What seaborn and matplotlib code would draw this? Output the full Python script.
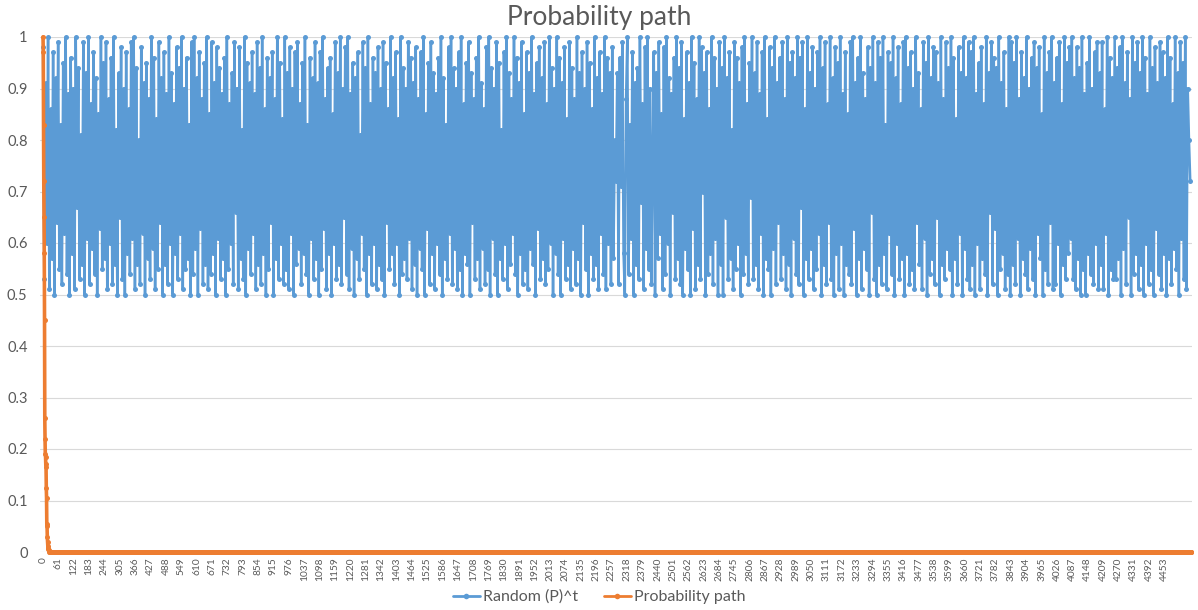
"""Probability path: random draws in [0.5, 1] and their running product."""
import matplotlib
matplotlib.use("Agg")
import matplotlib.pyplot as plt
from matplotlib.lines import Line2D
import numpy as np
import pandas as pd
import seaborn as sns

TITLE = "Probability path"
SERIES_NAMES = ["Random (P)^t", "Probability path"]
N_POINTS = 4560
BLUE_STEP = 5  # one read-off value per 5 steps of t

# Random (P)^t in percent (local highs and lows)
blue_pct = [
    98, 53, 91, 60, 100, 51, 86, 57, 97, 50, 92, 64,
    99, 55, 83, 52, 95, 62, 100, 54, 89, 50, 96, 58,
    90, 51, 100, 67, 94, 53, 81, 56, 99, 50, 93, 61,
    100, 52, 87, 59, 97, 54, 92, 50, 85, 63, 100, 55,
    95, 57, 99, 51, 88, 60, 96, 52, 100, 56, 82, 50,
    93, 65, 98, 53, 90, 50, 97, 58, 86, 54, 99, 61,
    100, 51, 94, 56, 80, 52, 98, 62, 91, 50, 95, 57,
    88, 53, 100, 59, 96, 51, 84, 55, 99, 64, 92, 50,
    97, 56, 89, 52, 100, 60, 93, 50, 87, 58, 98, 53,
    94, 62, 100, 51, 90, 55, 96, 57, 83, 50, 99, 54,
    100, 59, 92, 50, 97, 63, 88, 52, 95, 56, 100, 51,
    85, 54, 99, 58, 91, 50, 98, 61, 94, 53, 89, 57,
    96, 50, 100, 55, 87, 60, 93, 52, 99, 66, 90, 51,
    98, 57, 82, 53, 100, 50, 95, 59, 91, 54, 97, 62,
    89, 51, 99, 56, 94, 52, 100, 58, 86, 50, 96, 55,
    92, 64, 97, 50, 88, 57, 100, 53, 95, 60, 84, 52,
    100, 55, 93, 51, 98, 62, 90, 50, 97, 56, 99, 59,
    87, 52, 95, 58, 100, 54, 83, 50, 96, 61, 92, 53,
    99, 57, 91, 50, 97, 55, 100, 63, 88, 51, 94, 58,
    96, 50, 85, 60, 99, 53, 93, 56, 100, 52, 90, 65,
    98, 54, 100, 51, 89, 59, 95, 50, 92, 57, 97, 53,
    81, 62, 99, 55, 94, 50, 100, 58, 87, 52, 96, 60,
    93, 51, 98, 56, 90, 53, 99, 50, 95, 64, 86, 55,
    100, 58, 92, 52, 97, 60, 84, 50, 100, 54, 94, 57,
    90, 53, 99, 61, 96, 51, 91, 56, 98, 50, 88, 59,
    97, 55, 100, 50, 85, 63, 95, 52, 99, 58, 93, 51,
    89, 60, 96, 54, 100, 50, 92, 57, 83, 53, 98, 62,
    100, 52, 94, 59, 90, 51, 97, 55, 100, 50, 87, 58,
    95, 56, 99, 50, 93, 64, 88, 53, 96, 57, 100, 51,
    91, 59, 86, 52, 98, 55, 100, 50, 94, 61, 90, 54,
    99, 50, 95, 57, 82, 53, 97, 60, 100, 51, 93, 56,
    88, 62, 100, 54, 96, 50, 91, 58, 99, 52, 85, 55,
    97, 51, 93, 59, 100, 56, 89, 50, 95, 63, 98, 53,
    92, 57, 99, 52, 87, 55, 100, 60, 94, 50, 90, 58,
    100, 54, 96, 50, 91, 61, 98, 53, 84, 56, 99, 51,
    94, 59, 88, 52, 100, 57, 93, 50, 97, 64, 90, 55,
    99, 50, 95, 58, 86, 53, 100, 56, 92, 51, 97, 62,
    89, 54, 100, 51, 96, 60, 93, 52, 98, 57, 80, 72,
    93, 52, 96, 71, 99, 58, 50, 88, 100, 54, 83, 61,
    97, 50, 91, 56, 94, 53, 100, 68, 87, 51, 98, 59,
    100, 55, 90, 52, 76, 97, 50, 93, 57, 99, 62, 85,
    51, 98, 54, 100, 60, 92, 50, 89, 66, 96, 53, 100,
    57, 94, 52, 99, 50, 84, 59, 97, 55, 91, 50, 100,
    63, 95, 51, 88, 56, 100, 53, 98, 70, 93, 50, 97,
    54, 86, 58, 100, 52, 96, 61, 90, 50, 99, 56, 94,
    50, 100, 65, 92, 53, 97, 57, 82, 51, 99, 55, 96,
    60, 91, 50, 98, 54, 100, 58, 87, 52, 95, 69, 100,
    53, 93, 56, 99, 51, 89, 62, 97, 50, 100, 57, 84,
    55, 98, 50, 94, 59, 100, 52, 91, 64, 96, 53, 99,
    58, 88, 51, 100, 56, 95, 50, 97, 61, 92, 54, 100,
    52, 96, 67, 99, 50, 86, 57, 100, 53, 93, 59, 98,
    51, 90, 55, 97, 62, 100, 50, 94, 56, 99, 52, 87,
    64, 100, 53, 92, 50, 98, 58, 95, 51, 100, 60, 89,
    50, 97, 56, 85, 54, 99, 52, 100, 63, 91, 50, 96,
    57, 100, 51, 93, 59, 88, 55, 98, 50, 94, 66, 100,
    53, 91, 50, 99, 56, 96, 52, 100, 58, 83, 51, 97,
    62, 95, 54, 100, 50, 92, 60, 98, 53, 87, 57, 99,
    50, 100, 58, 94, 52, 97, 55, 90, 51, 100, 64, 93,
    56, 86, 51, 99, 61, 95, 50, 100, 54, 92, 57, 98,
    52, 97, 65, 91, 50, 100, 56, 88, 53, 99, 59, 94,
    55, 100, 50, 96, 57, 84, 52, 98, 62, 93, 50, 100,
    59, 92, 53, 99, 51, 97, 56, 100, 50, 89, 60, 95,
    51, 98, 57, 87, 54, 100, 50, 93, 66, 99, 52, 96,
    63, 94, 50, 100, 55, 91, 58, 97, 51, 86, 54, 100,
    50, 99, 56, 95, 52, 100, 61, 88, 50, 97, 57, 92,
    54, 100, 51, 90, 59, 96, 53, 99, 50, 94, 62, 98,
    57, 85, 50, 100, 55, 93, 52, 97, 64, 100, 51, 91,
    52, 96, 60, 99, 50, 87, 56, 100, 53, 95, 58, 98,
    61, 100, 53, 92, 51, 98, 57, 94, 50, 100, 55, 89,
    50, 95, 58, 100, 54, 90, 52, 97, 60, 99, 51, 93,
    56, 99, 51, 86, 62, 100, 50, 96, 55, 92, 53, 100,
    53, 94, 57, 98, 50, 100, 59, 91, 52, 97, 65, 88,
    50, 100, 54, 95, 58, 99, 51, 93, 56, 100, 50, 96,
    60, 89, 52, 100, 55, 94, 50, 98, 63, 91, 54, 99,
    51, 97, 58, 92, 50, 100, 57, 96, 52, 87, 59, 100,
    55, 93, 50, 99, 61, 95, 53, 100, 51, 90, 80, 72,
]

# Probability path: the first steps, zero afterwards
orange_head = [
    1.00, 0.97, 0.83, 0.72, 0.65, 0.58, 0.45, 0.26, 0.22, 0.19, 0.185, 0.17,
    0.165, 0.125, 0.105, 0.055, 0.05, 0.03, 0.02, 0.012, 0.008, 0.005, 0.003,
    0.002, 0.001,
]
orange_tail_value = 0.0

X_TICK_STEP = 61
Y_TICKS = [0, 0.1, 0.2, 0.3, 0.4, 0.5, 0.6, 0.7, 0.8, 0.9, 1]
Y_TICK_LABELS = ["0", "0.1", "0.2", "0.3", "0.4", "0.5", "0.6", "0.7", "0.8", "0.9", "1"]

BLUE = "#5B9BD5"
ORANGE = "#ED7D31"
TEXT = "#595959"
GRID = "#D9D9D9"


def main() -> None:
    blue = pd.DataFrame({"t": np.arange(len(blue_pct)) * BLUE_STEP,
                         "p": np.array(blue_pct) / 100})
    orange_values = orange_head + [orange_tail_value] * (N_POINTS - len(orange_head))
    orange = pd.DataFrame({"t": np.arange(N_POINTS), "p": orange_values})

    sns.set_theme(style="white")
    plt.rcParams["font.family"] = ["Lato", "DejaVu Sans"]
    plt.rcParams["path.simplify"] = False

    fig = plt.figure(figsize=(11.98, 6.10), dpi=100)
    ax = fig.add_axes([40 / 1198, 58 / 610, 1152 / 1198, 515 / 610])

    sns.lineplot(data=blue, x="t", y="p", ax=ax, color=BLUE, linewidth=1.8,
                 marker="o", markersize=3.6, markeredgewidth=0, estimator=None,
                 sort=False, clip_on=False, zorder=3)
    sns.lineplot(data=orange, x="t", y="p", ax=ax, color=ORANGE, linewidth=2.6,
                 marker="o", markersize=3.6, markeredgewidth=0, estimator=None,
                 sort=False, clip_on=False, zorder=4)

    ax.set_xlim(-12, N_POINTS + 2)
    ax.set_ylim(0, 1)
    ax.set_yticks(Y_TICKS)
    ax.set_yticklabels(Y_TICK_LABELS)
    xt = list(range(0, N_POINTS - 100, X_TICK_STEP))
    ax.set_xticks(xt)
    ax.set_xticklabels([str(v) for v in xt], rotation=90)
    ax.tick_params(axis="y", length=0, pad=9, labelsize=10.5, labelcolor=TEXT)
    ax.tick_params(axis="x", length=0, pad=4, labelsize=7.3, labelcolor=TEXT)
    ax.grid(axis="y", color=GRID, linewidth=0.8)
    ax.grid(axis="x", visible=False)
    for spine in ax.spines.values():
        spine.set_visible(False)
    ax.set_xlabel("")
    ax.set_ylabel("")

    fig.text(0.5, 1 - 17 / 610, TITLE, ha="center", va="center", fontsize=19, color=TEXT)

    handles = [
        Line2D([], [], color=BLUE, linewidth=2, marker="o", markersize=4, markeredgewidth=0),
        Line2D([], [], color=ORANGE, linewidth=2, marker="o", markersize=4, markeredgewidth=0),
    ]
    fig.legend(handles, SERIES_NAMES, loc="center", bbox_to_anchor=(0.5, 13 / 610), ncol=2,
               frameon=False, fontsize=11.5, labelcolor=TEXT, handlelength=1.7,
               handletextpad=0.2, columnspacing=1.6)

    fig.savefig("out.png", dpi=100, facecolor="white")
    plt.close(fig)


if __name__ == "__main__":
    main()
